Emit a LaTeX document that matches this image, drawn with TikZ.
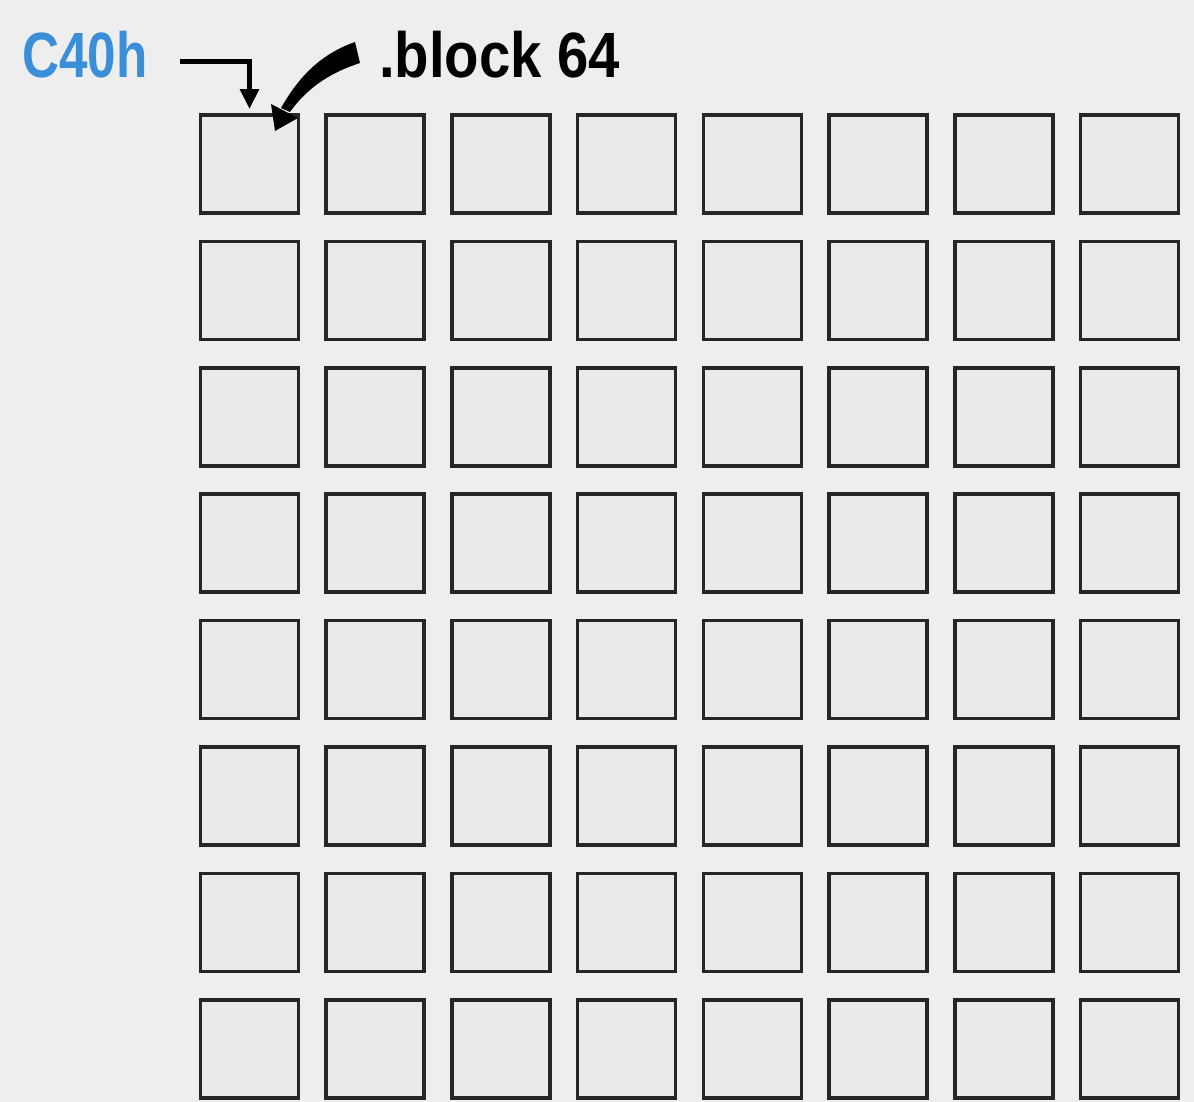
\documentclass[tikz,border=0pt]{standalone}
\usepackage{fontspec}
\setmainfont{Liberation Sans}
\usetikzlibrary{arrows.meta,calc}
\definecolor{bg}{HTML}{EEEEEE}
\definecolor{cell}{HTML}{EAEAEA}
\definecolor{addr}{HTML}{3B8FD8}
\begin{document}
\begin{tikzpicture}[x=1pt,y=-1pt,
  cellbox/.style={draw=black!85,line width=3.6pt,fill=cell,minimum width=98pt,minimum height=98pt,inner sep=0pt},
  lbl/.style={inner sep=0pt,font=\fontsize{64}{64}\bfseries},
  pointer/.style={line width=5pt,-{Triangle[length=20pt,width=18pt]}}]
\fill[bg] (0,0) rectangle (1194,1102);
\useasboundingbox (0,0) rectangle (1194,1102);
\foreach \r in {1,...,8}{
  \foreach \c in {1,...,8}{
    \node[cellbox] (b\r\c) at ({249.5+125.7*(\c-1)},{164+126.4*(\r-1)}) {};
  }
}
\node[lbl,text=addr,anchor=west] (c40) at (22,55) {\scalebox{0.8}[1]{C40h}};
\node[lbl,anchor=west] (blk) at (379,55) {\scalebox{0.88}[1]{.block 64}};
% straight pointer
\draw[pointer] ([xshift=32pt,yshift=-7pt]c40.east) -| ([yshift=4pt]b11.north);
% curved tapered pointer
\fill ($(blk.west)+(-24,-13)$) .. controls (318,55) and (297,80) .. (281,108)
  -- (290,112) .. controls (305,91) and (326,74) .. ($(blk.west)+(-19,8)$) -- cycle;
\fill (275,131) -- (271,104) -- (298,118) -- cycle;
\end{tikzpicture}
\end{document}
